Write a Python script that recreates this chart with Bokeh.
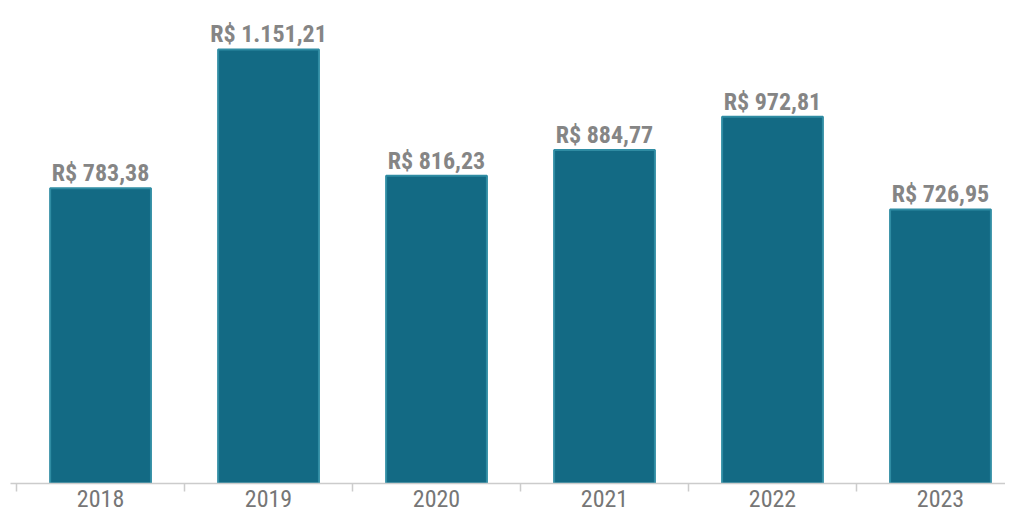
from bokeh.plotting import figure
from bokeh.models import ColumnDataSource, FixedTicker, Range1d
from bokeh.core.properties import value
from bokeh.embed import file_html
from bokeh.resources import INLINE

years = ["2018", "2019", "2020", "2021", "2022", "2023"]
values = [783.38, 1151.21, 816.23, 884.77, 972.81, 726.95]


def brl(v):
    s = f"{v:,.2f}"
    s = s.replace(",", "X").replace(".", ",").replace("X", ".")
    return "R$ " + s


xs = list(range(len(years)))
labels = [brl(v) for v in values]
src = ColumnDataSource(dict(x=xs, top=values, label=labels))

FONT = "Roboto Condensed"

p = figure(
    frame_width=995, frame_height=483,
    x_range=Range1d(-0.536, 5.387), y_range=Range1d(0, 1281),
    output_backend="svg", toolbar_location=None,
    min_border=0, min_border_left=10, min_border_bottom=4,
)
p.outline_line_color = None
p.background_fill_color = "white"
p.border_fill_color = "white"
p.xgrid.visible = False
p.ygrid.visible = False
p.yaxis.visible = False

p.vbar(x="x", top="top", width=0.6, source=src,
       fill_color="#136a84", line_color="#2f8ca3", line_width=2)

p.text(x="x", y="top", text="label", source=src,
       text_font=value(FONT), text_font_style="bold", text_font_size="24px",
       text_color="#858585", text_align="center", text_baseline="alphabetic",
       y_offset=-15)

ax = p.xaxis[0]
ax.ticker = FixedTicker(ticks=xs, minor_ticks=[i - 0.5 for i in xs])
ax.major_label_overrides = {i: y for i, y in zip(xs, years)}
ax.major_tick_line_color = None
ax.minor_tick_line_color = "#cccccc"
ax.minor_tick_line_width = 1.5
ax.minor_tick_out = 8
ax.minor_tick_in = 0
ax.axis_line_color = "#cccccc"
ax.axis_line_width = 1.5
ax.major_label_text_font = FONT
ax.major_label_text_font_size = "24px"
ax.major_label_text_color = "#767676"
ax.major_label_standoff = -2

open("out.html", "w").write(file_html(p, INLINE))
